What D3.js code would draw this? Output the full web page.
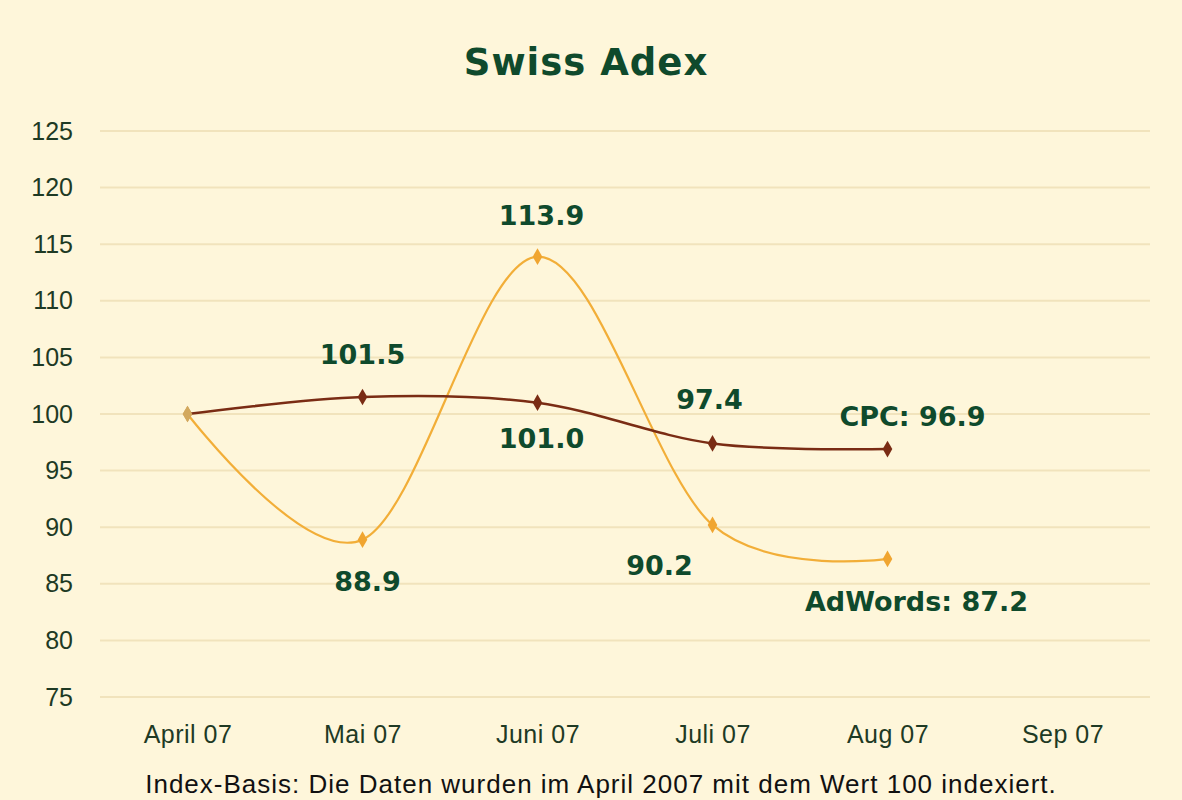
<!DOCTYPE html>
<html><head><meta charset="utf-8">
<script src="https://cdn.jsdelivr.net/npm/d3@7"></script>
<style>html,body{margin:0;padding:0;background:#FEF6DA;}svg{display:block;}</style>
</head><body>
<script>
const months = ["April 07","Mai 07","Juni 07","Juli 07","Aug 07","Sep 07"];
const cpcValues = [100, 101.5, 101.0, 97.4, 96.9];
const adwordsValues = [100, 88.9, 113.9, 90.2, 87.2];
const yTicks = [75,80,85,90,95,100,105,110,115,120,125];
const title = "Swiss Adex";
const footnote = "Index-Basis: Die Daten wurden im April 2007 mit dem Wert 100 indexiert.";

// label placement (style only)
const cpcLabelOffsets = [null, [0,-33], [4,45], [-3,-34], null];
const adLabelOffsets  = [null, [5,51], [4,-32], [-53,50], null];

const W = 1182, H = 800;
const svg = d3.select("body").append("svg").attr("width", W).attr("height", H);
svg.append("rect").attr("width", W).attr("height", H).attr("fill", "#FEF6DA");

const x = d3.scalePoint().domain(months).range([100, 1150]).padding(0.5);
const y = d3.scaleLinear().domain([75, 125]).range([697, 131]);

const green = "#0F4A2C";

svg.append("text").attr("x", 586).attr("y", 75).attr("text-anchor", "middle")
  .attr("font-family", "DejaVu Sans").attr("font-weight", "bold").attr("font-size", 37)
  .attr("letter-spacing", 1).attr("fill", green).text(title);

// gridlines
svg.append("g").selectAll("line").data(yTicks).join("line")
  .attr("x1", 100).attr("x2", 1150)
  .attr("y1", d => y(d)).attr("y2", d => y(d))
  .attr("stroke", "#F1E3BC").attr("stroke-width", 2);

// y axis
const yAxis = d3.axisLeft(y).tickValues(yTicks).tickSize(0).tickPadding(0);
const gy = svg.append("g").attr("transform", "translate(73,0)").call(yAxis);
gy.select(".domain").remove();
gy.selectAll("text").attr("font-family", "Liberation Sans").attr("font-size", 25)
  .attr("fill", "#1E3A24");

// x axis
const xAxis = d3.axisBottom(x).tickSize(0).tickPadding(0);
const gx = svg.append("g").attr("transform", "translate(0,725)").call(xAxis);
gx.select(".domain").remove();
gx.selectAll("text").attr("font-family", "Liberation Sans").attr("font-size", 25)
  .attr("fill", "#1E3A24").attr("letter-spacing", 0.5);

const line = d3.line().x((d, i) => x(months[i])).y(d => y(d)).curve(d3.curveCatmullRom.alpha(0));

function series(vals, color, width, markerColor, offsets) {
  svg.append("path").attr("d", line(vals)).attr("fill", "none")
    .attr("stroke", color).attr("stroke-width", width);
  svg.append("g").selectAll("path").data(vals).join("path")
    .attr("d", d3.symbol(d3.symbolDiamond, 80)())
    .attr("transform", (d, i) => `translate(${x(months[i])},${y(d)})`)
    .attr("fill", (d, i) => i === 0 ? "#D2A85E" : markerColor);
  svg.append("g").selectAll("text").data(vals.map((v, i) => [v, i]).filter(d => offsets[d[1]]))
    .join("text")
    .attr("x", d => x(months[d[1]]) + offsets[d[1]][0])
    .attr("y", d => y(d[0]) + offsets[d[1]][1])
    .attr("text-anchor", "middle")
    .attr("font-family", "DejaVu Sans").attr("font-weight", "bold").attr("font-size", 27)
    .attr("fill", green).text(d => d[0].toFixed(1));
}

series(adwordsValues, "#F2AE38", 2.2, "#F0A530", adLabelOffsets);
series(cpcValues, "#7A2C14", 2.5, "#7A2C14", cpcLabelOffsets);

// end labels
const last = cpcValues.length - 1;
svg.append("text").attr("x", x(months[last]) + 25).attr("y", y(cpcValues[last]) - 23)
  .attr("text-anchor", "middle").attr("font-family", "DejaVu Sans").attr("font-weight", "bold")
  .attr("font-size", 27).attr("fill", green).text("CPC: " + cpcValues[last].toFixed(1));
svg.append("text").attr("x", x(months[last]) + 29).attr("y", y(adwordsValues[last]) + 52)
  .attr("text-anchor", "middle").attr("font-family", "DejaVu Sans").attr("font-weight", "bold")
  .attr("font-size", 27).attr("fill", green).text("AdWords: " + adwordsValues[last].toFixed(1));

svg.append("text").attr("x", 601).attr("y", 793).attr("text-anchor", "middle")
  .attr("font-family", "Liberation Sans").attr("font-size", 26).attr("letter-spacing", 1)
  .attr("fill", "#111").text(footnote);
</script>
</body></html>
